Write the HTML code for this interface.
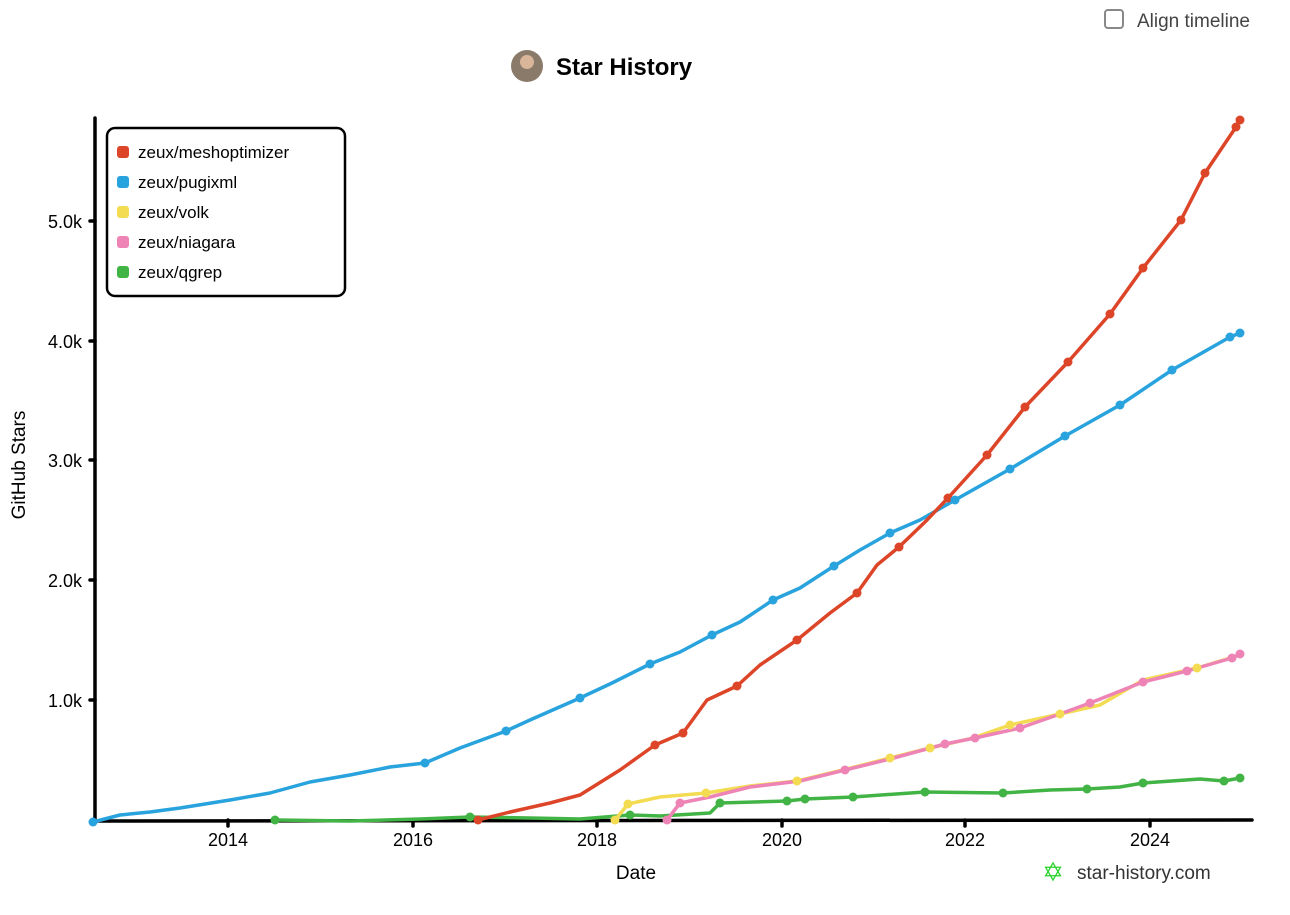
<!DOCTYPE html>
<html><head><meta charset="utf-8"><style>
body{margin:0;background:#fff;width:1290px;height:910px;overflow:hidden;font-family:"Liberation Sans",sans-serif}
</style></head><body>
<svg width="1290" height="910" xmlns="http://www.w3.org/2000/svg" font-family="Liberation Sans, sans-serif">
<rect x="1105" y="10" width="18" height="18" rx="3" fill="#fff" stroke="#888" stroke-width="2"/>
<text x="1137" y="27" font-size="19" fill="#444">Align timeline</text>
<circle cx="527" cy="66" r="16" fill="#8a7a6a"/><circle cx="527" cy="62" r="7" fill="#d9b59a"/>
<text x="556" y="75" font-size="24" font-weight="bold" fill="#000">Star History</text>
<g stroke="#000" stroke-width="3.5" fill="none" stroke-linecap="round">
<path d="M95 118 L95 822"/><path d="M93 821 L1252 820"/>
<path d="M90 221 L95 221 M90 341 L95 341 M90 460 L95 460 M90 580 L95 580 M90 700 L95 700"/>
<path d="M228 820 L228 826 M413 820 L413 826 M597 820 L597 826 M782 820 L782 826 M965 820 L965 826 M1150 820 L1150 826"/>
</g>
<g font-size="18" fill="#000" text-anchor="end">
<text x="82" y="228">5.0k</text><text x="82" y="348">4.0k</text><text x="82" y="467">3.0k</text><text x="82" y="587">2.0k</text><text x="82" y="707">1.0k</text>
</g>
<g font-size="18" fill="#000" text-anchor="middle">
<text x="228" y="846">2014</text><text x="413" y="846">2016</text><text x="597" y="846">2018</text><text x="782" y="846">2020</text><text x="965" y="846">2022</text><text x="1150" y="846">2024</text>
<text x="636" y="879" font-size="19">Date</text>
</g>
<text transform="translate(25 465) rotate(-90)" font-size="19" text-anchor="middle">GitHub Stars</text>
<g fill="none" stroke-width="3.5" stroke-linejoin="round" stroke-linecap="round">
<polyline stroke="#41b445" points="275,820 350,821 420,819 470,817 530,818 580,819 630,815 660,816 710,813 720,803 787,801 805,799 853,797 925,792 1003,793 1050,790 1087,789 1120,787 1143,783 1200,779 1224,781 1240,778"/>
<polyline stroke="#f3db52" points="615,820 628,804 660,797 706,793 750,786 797,781 847,769 890,758 930,748 973,738 1010,725 1060,714 1100,705 1143,680 1197,668 1240,655"/>
<polyline stroke="#ed84b5" points="667,820 680,803 710,797 750,787 800,781 845,770 890,759 945,744 975,738 1020,728 1060,714 1090,703 1143,682 1187,671 1232,658 1240,654"/>
<polyline stroke="#28a3dd" points="93,822 120,815 150,812 180,808 230,800 270,793 310,782 350,775 390,767 425,763 460,748 506,731 530,720 580,698 612,683 650,664 680,652 712,635 740,622 773,600 800,588 834,566 860,550 890,533 920,520 955,500 1010,469 1065,436 1120,405 1172,370 1230,337 1240,333"/>
<polyline stroke="#dd4528" points="478,820 510,812 550,803 580,795 620,770 655,745 683,733 707,700 737,686 760,665 797,640 830,613 857,593 877,565 899,547 925,522 948,498 987,455 1025,407 1068,362 1110,314 1143,268 1181,220 1205,173 1236,127 1240,120"/>
</g>
<g fill="#dd4528"><circle cx="478" cy="820" r="4.5"/><circle cx="655" cy="745" r="4.5"/><circle cx="683" cy="733" r="4.5"/><circle cx="737" cy="686" r="4.5"/><circle cx="797" cy="640" r="4.5"/><circle cx="857" cy="593" r="4.5"/><circle cx="899" cy="547" r="4.5"/><circle cx="948" cy="498" r="4.5"/><circle cx="987" cy="455" r="4.5"/><circle cx="1025" cy="407" r="4.5"/><circle cx="1068" cy="362" r="4.5"/><circle cx="1110" cy="314" r="4.5"/><circle cx="1143" cy="268" r="4.5"/><circle cx="1181" cy="220" r="4.5"/><circle cx="1205" cy="173" r="4.5"/><circle cx="1236" cy="127" r="4.5"/><circle cx="1240" cy="120" r="4.5"/></g>
<g fill="#28a3dd"><circle cx="93" cy="822" r="4.5"/><circle cx="425" cy="763" r="4.5"/><circle cx="506" cy="731" r="4.5"/><circle cx="580" cy="698" r="4.5"/><circle cx="650" cy="664" r="4.5"/><circle cx="712" cy="635" r="4.5"/><circle cx="773" cy="600" r="4.5"/><circle cx="834" cy="566" r="4.5"/><circle cx="890" cy="533" r="4.5"/><circle cx="955" cy="500" r="4.5"/><circle cx="1010" cy="469" r="4.5"/><circle cx="1065" cy="436" r="4.5"/><circle cx="1120" cy="405" r="4.5"/><circle cx="1172" cy="370" r="4.5"/><circle cx="1230" cy="337" r="4.5"/><circle cx="1240" cy="333" r="4.5"/></g>
<g fill="#f3db52"><circle cx="615" cy="820" r="4.5"/><circle cx="628" cy="804" r="4.5"/><circle cx="706" cy="793" r="4.5"/><circle cx="797" cy="781" r="4.5"/><circle cx="890" cy="758" r="4.5"/><circle cx="930" cy="748" r="4.5"/><circle cx="1010" cy="725" r="4.5"/><circle cx="1060" cy="714" r="4.5"/><circle cx="1197" cy="668" r="4.5"/></g>
<g fill="#ed84b5"><circle cx="667" cy="820" r="4.5"/><circle cx="680" cy="803" r="4.5"/><circle cx="845" cy="770" r="4.5"/><circle cx="945" cy="744" r="4.5"/><circle cx="975" cy="738" r="4.5"/><circle cx="1020" cy="728" r="4.5"/><circle cx="1090" cy="703" r="4.5"/><circle cx="1143" cy="682" r="4.5"/><circle cx="1187" cy="671" r="4.5"/><circle cx="1232" cy="658" r="4.5"/><circle cx="1240" cy="654" r="4.5"/></g>
<g fill="#41b445"><circle cx="275" cy="820" r="4.5"/><circle cx="470" cy="817" r="4.5"/><circle cx="630" cy="815" r="4.5"/><circle cx="720" cy="803" r="4.5"/><circle cx="787" cy="801" r="4.5"/><circle cx="805" cy="799" r="4.5"/><circle cx="853" cy="797" r="4.5"/><circle cx="925" cy="792" r="4.5"/><circle cx="1003" cy="793" r="4.5"/><circle cx="1087" cy="789" r="4.5"/><circle cx="1143" cy="783" r="4.5"/><circle cx="1224" cy="781" r="4.5"/><circle cx="1240" cy="778" r="4.5"/></g>
<rect x="107" y="128" width="238" height="168" rx="8" fill="#fff" stroke="#000" stroke-width="2.5"/>
<g font-size="17" fill="#000">
<rect x="117" y="146" width="12" height="12" rx="3" fill="#dd4528"/><text x="138" y="158">zeux/meshoptimizer</text>
<rect x="117" y="176" width="12" height="12" rx="3" fill="#28a3dd"/><text x="138" y="188">zeux/pugixml</text>
<rect x="117" y="206" width="12" height="12" rx="3" fill="#f3db52"/><text x="138" y="218">zeux/volk</text>
<rect x="117" y="236" width="12" height="12" rx="3" fill="#ed84b5"/><text x="138" y="248">zeux/niagara</text>
<rect x="117" y="266" width="12" height="12" rx="3" fill="#41b445"/><text x="138" y="278">zeux/qgrep</text>
</g>
<text x="1053" y="881" fill="#2bd22b" text-anchor="middle" font-size="26">✡</text>
<text x="1077" y="879" font-size="19" fill="#333">star-history.com</text>
</svg>
</body></html>
